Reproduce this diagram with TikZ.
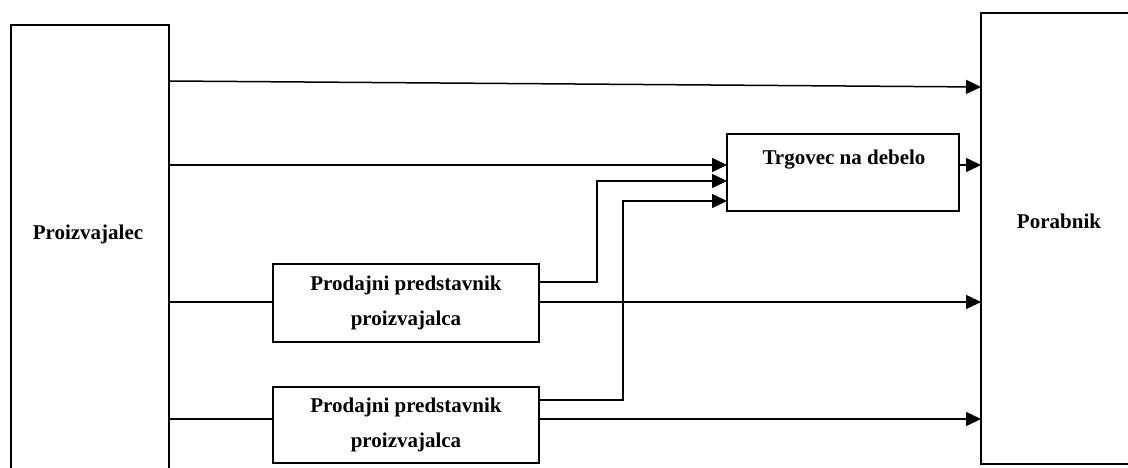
\documentclass[tikz,border=0pt]{standalone}
\usepackage{fontspec}
\setmainfont{Liberation Serif}
\usetikzlibrary{arrows.meta,calc}
\tikzset{
  box/.style={draw, line width=2.2pt, inner sep=0pt, outer sep=0pt, fill=white},
  lbl/.style={inner sep=0pt, outer sep=0pt, align=center,
    font=\fontsize{21}{35}\selectfont\bfseries},
  conn/.style={line width=1.5pt},
  arr/.style={conn, -{Triangle[length=15pt,width=14pt]}},
}
\begin{document}
\begin{tikzpicture}[x=1pt,y=-1pt]
\useasboundingbox (0,0) rectangle (1128,468);
\clip (0,0) rectangle (1128,468);
\fill[white] (0,0) rectangle (1128,468);

% main boxes
\node[box, minimum width=158pt, minimum height=455pt] (P) at (90,252.5) {};
\node[box, minimum width=159pt, minimum height=451pt] (C) at (1060.5,238.5) {};
\node[box, minimum width=232pt, minimum height=77pt] (T) at (843,172.5) {};
\node[box, minimum width=266pt, minimum height=78pt, lbl] (R1) at (406,303)
  {Prodajni predstavnik\\proizvajalca};
\node[box, minimum width=266pt, minimum height=76pt, lbl] (R2) at (406,425)
  {Prodajni predstavnik\\proizvajalca};

% box titles
\node[lbl, anchor=base] (Ptxt) at (88,240) {Proizvajalec};
\node[lbl, anchor=base] (Ctxt) at (1059,229) {Porabnik};
\node[lbl, anchor=base] (Ttxt) at (844,165) {Trgovec na debelo};

% direct channel
\draw[arr] (P.east |- 0,81) -- (C.west |- 0,87);
% via wholesaler
\draw[arr] (P.east |- 0,165) -- (T.west |- 0,165);
\draw[arr] (T.east |- 0,165) -- (C.west |- 0,165);
% via sales representatives
\draw[conn] (P.east |- 0,302) -- (R1.west |- 0,302);
\draw[arr] (R1.east |- 0,302) -- (C.west |- 0,302);
\draw[conn] (P.east |- 0,419) -- (R2.west |- 0,419);
\draw[arr] (R2.east |- 0,419) -- (C.west |- 0,419);
% representatives to wholesaler
\draw[arr] (R1.east |- 0,282) -- (597,282) -- (597,181) -- (T.west |- 0,181);
\draw[arr] (R2.east |- 0,400) -- (623,400) -- (623,201) -- (T.west |- 0,201);
\end{tikzpicture}
\end{document}
